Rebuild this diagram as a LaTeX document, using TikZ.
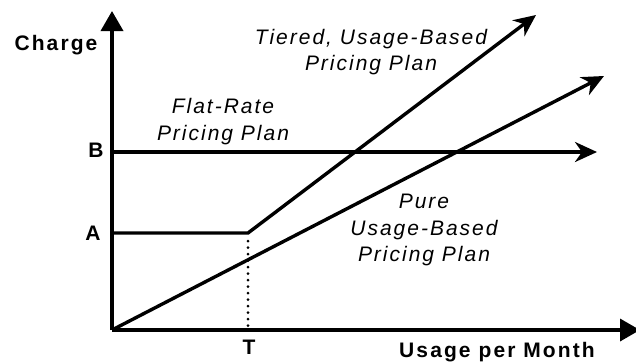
\documentclass[tikz,border=0pt]{standalone}
\usepackage{fontspec}
\setmainfont{Liberation Sans}
\newfontfamily\axisfont[LetterSpace=10]{Liberation Sans}
\newfontfamily\planfont[LetterSpace=9.5]{Liberation Sans}
\usetikzlibrary{arrows.meta}
\begin{document}
\begin{tikzpicture}[x=1pt,y=-1pt,
  axislabel/.style={font=\axisfont\bfseries\fontsize{21}{25}\selectfont, inner sep=0pt, anchor=base},
  planlabel/.style={font=\planfont\itshape\fontsize{21}{26.5}\selectfont, align=center, inner sep=0pt},
  heavy/.style={line width=3.6pt},
  axisarrow/.style={heavy, -{Triangle[length=20pt,width=22pt]}},
  planarrow/.style={line width=3.4pt, -{Stealth[length=22pt,width=20pt,inset=7pt]}}]
  \useasboundingbox (0,0) rectangle (636,362);

  % axes
  \coordinate (O) at (112,330);
  \coordinate (ytop) at (112,11);
  \coordinate (xend) at (640,330);
  \draw[axisarrow] (O) -- (ytop);
  \draw[axisarrow] (O) -- (xend);

  % levels and threshold
  \coordinate (Bstart) at (112,152);
  \coordinate (Bend) at (597,152);
  \coordinate (Astart) at (112,233);
  \coordinate (knee) at (248,233);
  \coordinate (tierEnd) at (536,15);
  \coordinate (pureEnd) at (604,76);
  \coordinate (Tfoot) at (248,326);

  % flat-rate plan
  \draw[planarrow] (Bstart) -- (Bend);
  % tiered plan
  \draw[planarrow, line join=miter] (Astart) -- (knee) -- (tierEnd);
  % pure usage-based plan
  \draw[planarrow] (O) -- (pureEnd);
  % threshold marker
  \draw[line width=3pt, dash pattern=on 0pt off 6.5pt, line cap=round] (knee) ++(0,8) -- (Tfoot);

  % labels
  \node[axislabel] (charge) at (56,50) {Charge};
  \node[axislabel] (lblB) at (96,157) {B};
  \node[axislabel] (lblA) at (93,240) {A};
  \node[axislabel] (lblT) at (249,354) {T};
  \node[axislabel] (usage) at (497,357) {Usage per Month};

  \node[planlabel] (tiered) at (371,52) {Tiered, Usage-Based\\Pricing Plan};
  \node[planlabel] (flat) at (223,121.5) {Flat-Rate\\Pricing Plan};
  \node[planlabel] (pure) at (424,230) {Pure\\Usage-Based\\Pricing Plan};
\end{tikzpicture}
\end{document}
